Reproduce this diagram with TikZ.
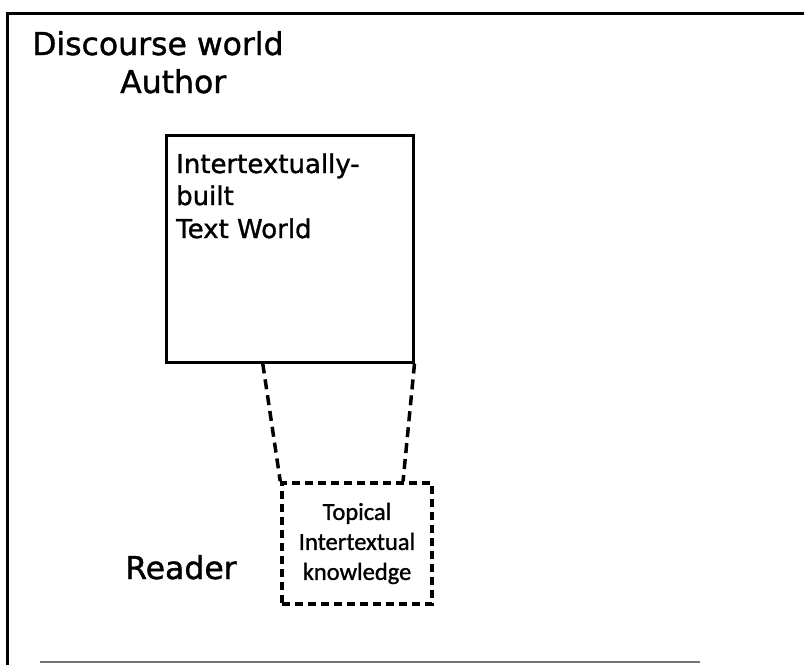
\documentclass[tikz,border=0pt]{standalone}
\usepackage{fontspec}
\setmainfont{DejaVu Sans}
% slightly emboldened faces for all the labels
\newfontfamily\heavysans{DejaVu Sans}[FakeBold=1.2]
\newfontfamily\boxfont{Carlito}[FakeBold=1.2]
\usetikzlibrary{calc}
\begin{document}
\begin{tikzpicture}[x=1pt,y=-1pt,
  bigtext/.style={inner sep=0, anchor=base west, font=\heavysans\fontsize{31.5}{38}\selectfont},
  midtext/.style={inner sep=0, anchor=base west, font=\heavysans\fontsize{26}{32}\selectfont},
  framepath/.style={line width=3pt},
  worldbox/.style={draw, line width=3pt, inner sep=0, minimum width=247pt, minimum height=227pt},
  knowbox/.style={draw, line width=3.5pt, dash pattern=on 8pt off 5pt, inner sep=0,
    minimum width=150pt, minimum height=121pt, align=center,
    font=\boxfont\fontsize{24.5}{30}\selectfont},
  link/.style={line width=3.5pt, dash pattern=on 10pt off 6pt}]
\useasboundingbox (0,0) rectangle (804,665);

% discourse-world frame
\draw[framepath] (804,13) -- (7,13) -- (7,665);
\draw[black!55, line width=1.5pt] (40,662) -- (700,662);

% labels of the discourse world
\node[bigtext] (dw) at (32,55) {Discourse world};
\node[bigtext] (au) at (120,93) {Author};
\node[bigtext] (rd) at (125,579) {Reader};

% text world
\node[worldbox] (tw) at (289.5,248.5) {};
\node[midtext] (t1) at (176,173) {Intertextually-};
\node[midtext] (t2) at (176,205) {built};
\node[midtext] (t3) at (176,238) {Text World};

% reader's topical knowledge
\node[knowbox] (tk) at (357,543.5) {Topical\\Intertextual\\knowledge};

% links between the text world and the reader's knowledge
\draw[link] ($(tw.south west)!0.393!(tw.south east)$) -- (tk.north west);
\draw[link] (tw.south east) -- ($(tk.north west)!0.8!(tk.north east)$);
\end{tikzpicture}
\end{document}
